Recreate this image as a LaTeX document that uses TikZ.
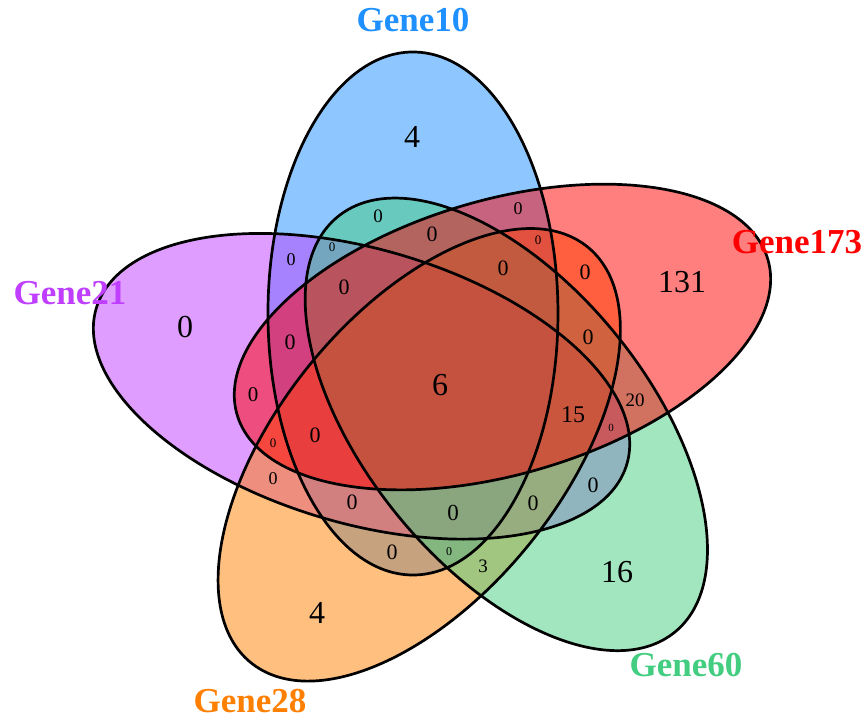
\documentclass[tikz,border=0pt]{standalone}
\usepackage{fontspec}
\setmainfont{Liberation Serif}
\definecolor{cBlue}{RGB}{30,144,255}
\definecolor{cPurple}{RGB}{191,62,255}
\definecolor{cOrange}{RGB}{255,127,0}
\definecolor{cGreen}{RGB}{67,205,128}
\definecolor{cRed}{RGB}{255,0,0}
\begin{document}
\begin{tikzpicture}[x=1pt,y=1pt,
  vfill/.style={fill=#1, fill opacity=0.5},
  outline/.style={draw=black, line width=2.7pt},
  num/.style={inner sep=0pt, text=black, font=\fontsize{#1}{#1}\selectfont},
  setlabel/.style={inner sep=0pt, text=#1, font=\bfseries\fontsize{35}{35}\selectfont}]
\useasboundingbox (0,0) rectangle (866,720);
\begin{scope}[shift={(440.5,336.8)}, xscale=1.063]
  \path[vfill=cBlue, rotate=0]    (-25.9,69.7) ellipse [x radius=136.4, y radius=261.5];
  \path[vfill=cPurple, rotate=-288] (-25.9,69.7) ellipse [x radius=136.4, y radius=261.5];
  \path[vfill=cOrange, rotate=-216] (-25.9,69.7) ellipse [x radius=136.4, y radius=261.5];
  \path[vfill=cGreen, rotate=-144] (-25.9,69.7) ellipse [x radius=136.4, y radius=261.5];
  \path[vfill=cRed, rotate=-72]   (-25.9,69.7) ellipse [x radius=136.4, y radius=261.5];
  \foreach \r in {0,-72,-144,-216,-288}
    \draw[outline, rotate=\r] (-25.9,69.7) ellipse [x radius=136.4, y radius=261.5];
\end{scope}
% set labels
\node[setlabel=cBlue]   (lA) at (413,700) {Gene10};
\node[setlabel=cRed]    (lB) at (797,478) {Gene173};
\node[setlabel=cPurple] (lC) at (70,427)  {Gene21};
\node[setlabel=cOrange] (lD) at (250,19)  {Gene28};
\node[setlabel=cGreen]  (lE) at (686,55)  {Gene60};
% unique and centre counts
\node[num=32] (n1) at (412,583) {4};
\node[num=32] (n2) at (185,393) {0};
\node[num=32] (n3) at (682,438) {131};
\node[num=32] (n4) at (440,335) {6};
\node[num=32] (n5) at (617,148) {16};
\node[num=32] (n6) at (317,107) {4};
% overlap counts
\node[num=19] (m1)  at (378,504) {0};
\node[num=18] (m2)  at (291,460) {0};
\node[num=13] (m3)  at (332,473) {0};
\node[num=22] (m4)  at (432,486) {0};
\node[num=18] (m5)  at (518,511) {0};
\node[num=13] (m6)  at (538,480) {0};
\node[num=22] (m7)  at (503,452) {0};
\node[num=22] (m8)  at (344,433) {0};
\node[num=22] (m9)  at (290,378) {0};
\node[num=21] (m10) at (253,325) {0};
\node[num=13] (m11) at (273,277) {0};
\node[num=22] (m12) at (315,285) {0};
\node[num=18] (m13) at (273,241) {0};
\node[num=22] (m14) at (352,218) {0};
\node[num=22] (m15) at (585,448) {0};
\node[num=22] (m16) at (588,383) {0};
\node[num=19] (m17) at (635,320) {20};
\node[num=24] (m18) at (573,305) {15};
\node[num=11] (m19) at (611,292) {0};
\node[num=22] (m20) at (593,235) {0};
\node[num=22] (m21) at (533,217) {0};
\node[num=23] (m22) at (453,207) {0};
\node[num=22] (m23) at (392,168) {0};
\node[num=12] (m24) at (449,168) {0};
\node[num=19] (m25) at (483,154) {3};
\end{tikzpicture}
\end{document}
